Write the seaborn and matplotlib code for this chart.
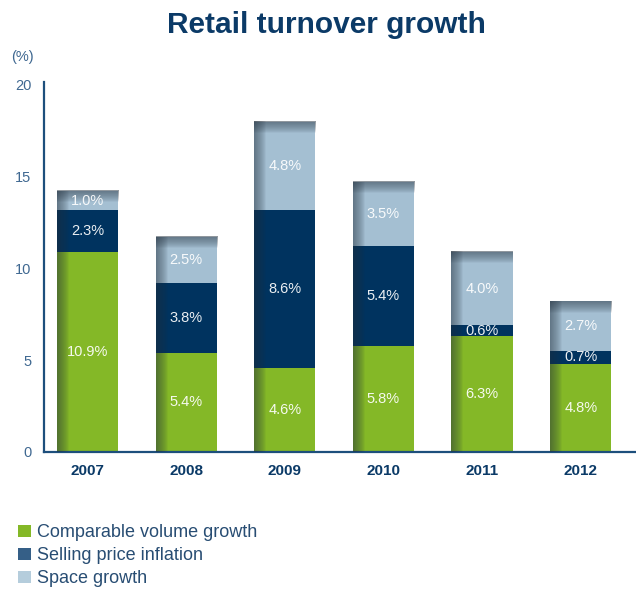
import numpy as np
import pandas as pd
import matplotlib
matplotlib.use("Agg")
import matplotlib.pyplot as plt
from matplotlib.patches import Patch
import seaborn as sns

# Data
years = ["2007", "2008", "2009", "2010", "2011", "2012"]
volume_growth = [10.9, 5.4, 4.6, 5.8, 6.3, 4.8]
price_inflation = [2.3, 3.8, 8.6, 5.4, 0.6, 0.7]
space_growth = [1.0, 2.5, 4.8, 3.5, 4.0, 2.7]
series_names = ["Comparable volume growth", "Selling price inflation", "Space growth"]
y_ticks = [0, 5, 10, 15, 20]

GREEN = "#84b827"
NAVY = "#00335f"
LIGHT = "#a4bfd2"
TEXT_NAVY = "#0b3a67"
TICK_BLUE = "#3f6891"

sns.set_theme(style="white")
plt.rcParams["font.family"] = ["Liberation Sans", "DejaVu Sans"]

df = pd.DataFrame({
    "year": years,
    "volume": volume_growth,
    "price": price_inflation,
    "space": space_growth,
})
df["lvl1"] = df["volume"]
df["lvl2"] = df["volume"] + df["price"]
df["lvl3"] = df["lvl2"] + df["space"]

fig = plt.figure(figsize=(6.36, 5.89), dpi=100)
ax = fig.add_axes([0.0692, 0.2326, 0.9308, 0.6282])

bar_w = 0.62
# Stacked bars drawn as overlapping cumulative layers
for col, colour in [("lvl3", LIGHT), ("lvl2", NAVY), ("lvl1", GREEN)]:
    sns.barplot(data=df, x="year", y=col, color=colour, saturation=1,
                width=bar_w, linewidth=0, edgecolor="none", ax=ax)

n = len(years)
total_patches = ax.patches[:n]

# Soft shading along the left edge and the top of every bar
shade_rgb = (0.12, 0.17, 0.22)
t = np.linspace(0.0, 1.0, 64)
ramp = 0.5 * (1.0 - t) ** 0.7
left_grad = np.zeros((1, 64, 4))
left_grad[..., :3] = shade_rgb
left_grad[..., 3] = ramp
top_grad = np.zeros((64, 1, 4))
top_grad[..., :3] = shade_rgb
top_grad[..., 3] = ramp[:, None]
px_x = 98.6
px_y = 18.35
for p in total_patches:
    x0, w, h = p.get_x(), p.get_width(), p.get_height()
    lw = 11 / px_x
    th = 11 / px_y
    ax.imshow(left_grad, extent=(x0, x0 + lw, 0, h), aspect="auto", zorder=3,
              interpolation="bilinear", origin="upper")
    ax.imshow(top_grad, extent=(x0, x0 + w, h - th, h), aspect="auto", zorder=3,
              interpolation="bilinear", origin="upper")

# Segment value labels
for i in range(n):
    segs = [(0, df["lvl1"][i], volume_growth[i]),
            (df["lvl1"][i], df["lvl2"][i], price_inflation[i]),
            (df["lvl2"][i], df["lvl3"][i], space_growth[i])]
    for lo, hi, v in segs:
        ax.text(i, (lo + hi) / 2, f"{v:.1f}%", ha="center", va="center",
                color="white", alpha=0.92, fontsize=10.5, zorder=4)

ax.set_xlim(-0.44, 5.56)
ax.set_ylim(0, 20.16)
ax.set_yticks(y_ticks)
ax.set_yticklabels([str(t) for t in y_ticks])
ax.set_xlabel("")
ax.set_ylabel("")
ax.tick_params(axis="y", length=0, pad=9, labelsize=10.5, labelcolor=TICK_BLUE)
ax.tick_params(axis="x", length=0, pad=9, labelsize=11, labelcolor=TEXT_NAVY)
for lab in ax.get_xticklabels():
    lab.set_fontweight("bold")
for side in ["top", "right"]:
    ax.spines[side].set_visible(False)
for side in ["left", "bottom"]:
    ax.spines[side].set_color("#1d4f7c")
    ax.spines[side].set_linewidth(1.6)
ax.grid(False)

fig.text(0.514, 0.957, "Retail turnover growth", ha="center", va="center",
         fontsize=21.5, fontweight="bold", color=TEXT_NAVY)
fig.text(0.035, 0.903, "(%)", ha="center", va="center", fontsize=10.5, color=TICK_BLUE)

handles = [Patch(facecolor=GREEN, edgecolor="none"),
           Patch(facecolor="#355f87", edgecolor="none"),
           Patch(facecolor="#b5cddc", edgecolor="none")]
fig.legend(handles, series_names, loc="upper left", bbox_to_anchor=(0.029, 0.11),
           bbox_transform=fig.transFigure, frameon=False, fontsize=13,
           handlelength=0.7, handleheight=0.7, handletextpad=0.35,
           labelspacing=0.34, borderaxespad=0, borderpad=0,
           labelcolor="#284d73")

fig.savefig("out.png", dpi=100)
